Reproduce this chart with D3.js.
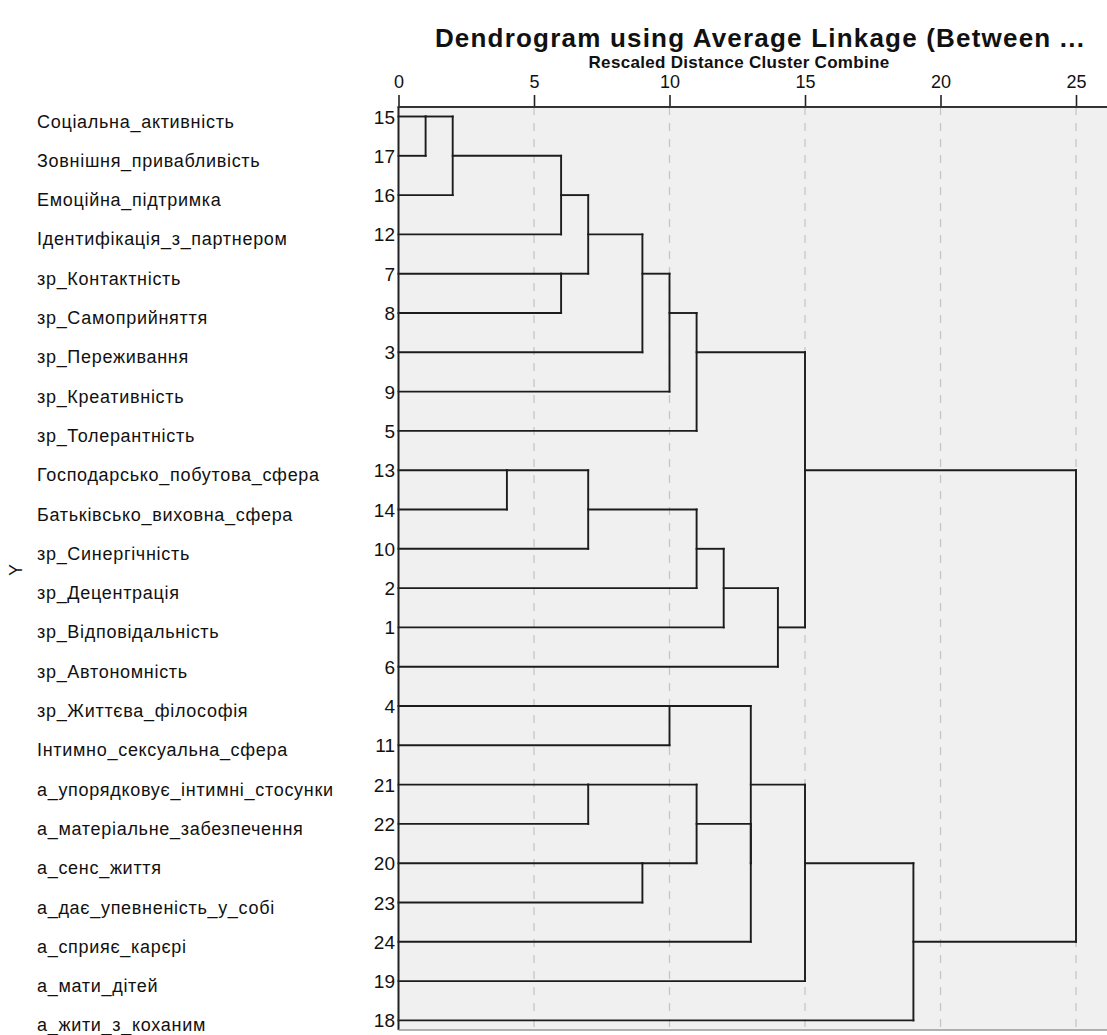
<!DOCTYPE html>
<html><head><meta charset="utf-8">
<script src="https://cdn.jsdelivr.net/npm/d3@7"></script>
<style>
html,body{margin:0;padding:0;background:#fff;}
svg text{font-family:"Liberation Sans",Arial,sans-serif;fill:#111;}
</style></head>
<body>
<svg id="chart" width="1107" height="1035"></svg>
<script>
// ---- data ----
const chartTitle = "Dendrogram using Average Linkage (Between ...";
const axisTitle = "Rescaled Distance Cluster Combine";
const yTitle = "Y";
const caseIds = ["15","17","16","12","7","8","3","9","5","13","14","10","2","1","6","4","11","21","22","20","23","24","19","18"];
const caseLabels = ["Соціальна_активність","Зовнішня_привабливість","Емоційна_підтримка","Ідентифікація_з_партнером","зр_Контактність","зр_Самоприйняття","зр_Переживання","зр_Креативність","зр_Толерантність","Господарсько_побутова_сфера","Батьківсько_виховна_сфера","зр_Синергічність","зр_Децентрація","зр_Відповідальність","зр_Автономність","зр_Життєва_філософія","Інтимно_сексуальна_сфера","а_упорядковує_інтимні_стосунки","а_матеріальне_забезпечення","а_сенс_життя","а_дає_упевненість_у_собі","а_сприяє_карєрі","а_мати_дітей","а_жити_з_коханим"];
// merges in agglomeration order: M1..M23
const mergeLeft  = ["15","M1","13","M2","7","M4","M3","21","M6","20","M9","4","M11","M7","M8","M14","M15","M12","M16","M13","M18","M21","M20"];
const mergeRight = ["17","16","14","12","8","M5","10","22","3","23","9","11","5","2","M10","1","24","M17","6","M19","19","18","M22"];
const mergeDist  = [1,2,4,6,6,7,7,7,9,9,10,10,11,11,11,12,13,13,14,15,15,19,25];
const xTicks = [0,5,10,15,20,25];

// ---- layout ----
const svg = d3.select("#chart");
const plot = {left:398.5, top:107, bottom:1030, right:1107};
const x = d3.scaleLinear().domain([0,25]).range([plot.left, 1076]);
const y = d3.scaleLinear().domain([0, caseIds.length-1]).range([116.5, 1020.4]);

// background
svg.append("rect").attr("x",plot.left).attr("y",plot.top)
  .attr("width",plot.right-plot.left).attr("height",plot.bottom-plot.top)
  .attr("fill","#f0f0f0");

// grid
svg.append("g").selectAll("line").data(xTicks.filter(d=>d>0)).join("line")
  .attr("x1",d=>x(d)).attr("x2",d=>x(d)).attr("y1",plot.top).attr("y2",plot.bottom)
  .attr("stroke","#c4c4c4").attr("stroke-width",1.2).attr("stroke-dasharray","8,8");

// node positions
const node = {};
caseIds.forEach((c,i)=>{ node[c] = {row:i, dist:0}; });
const links = [];
mergeLeft.forEach((a,i)=>{
  const b = mergeRight[i], d = mergeDist[i];
  const na = node[a], nb = node[b];
  links.push({x1:x(na.dist),x2:x(d),y1:y(na.row),y2:y(na.row)});
  links.push({x1:x(nb.dist),x2:x(d),y1:y(nb.row),y2:y(nb.row)});
  links.push({x1:x(d),x2:x(d),y1:y(na.row),y2:y(nb.row)});
  node["M"+(i+1)] = {row:Math.floor((na.row+nb.row)/2), dist:d};
});
svg.append("g").selectAll("line").data(links).join("line")
  .attr("x1",d=>d.x1).attr("x2",d=>d.x2).attr("y1",d=>d.y1).attr("y2",d=>d.y2)
  .attr("stroke","#1c1c1c").attr("stroke-width",1.9).attr("stroke-linecap","square");

// axes
const xAxis = d3.axisTop(x).tickValues(xTicks).tickSize(12).tickPadding(7).tickFormat(d3.format("d"));
const gx = svg.append("g").attr("transform",`translate(0,${plot.top})`).call(xAxis);
gx.select(".domain").remove();
gx.selectAll(".tick line").attr("stroke","#222").attr("stroke-width",1.6);
gx.selectAll(".tick text").attr("font-size",18).attr("font-family","Liberation Sans, Arial, sans-serif").attr("fill","#222");
svg.append("line").attr("x1",plot.left-1).attr("x2",plot.right).attr("y1",plot.top).attr("y2",plot.top)
  .attr("stroke","#333").attr("stroke-width",2);
svg.append("line").attr("x1",plot.left).attr("x2",plot.left).attr("y1",plot.top).attr("y2",plot.bottom)
  .attr("stroke","#222").attr("stroke-width",2);
svg.append("line").attr("x1",plot.left).attr("x2",plot.right).attr("y1",plot.bottom).attr("y2",plot.bottom)
  .attr("stroke","#999").attr("stroke-width",1.5);

// row numbers and labels
svg.append("g").selectAll("text").data(caseIds).join("text")
  .attr("x",395).attr("y",(d,i)=>y(i)+7)
  .attr("text-anchor","end").attr("font-size",19).attr("fill","#222").text(d=>d);
svg.append("g").selectAll("text").data(caseLabels).join("text")
  .attr("x",37).attr("y",(d,i)=>y(i)+11)
  .attr("font-size",18).attr("letter-spacing","0.7px").attr("fill","#111").text(d=>d);

// titles
svg.append("text").attr("x",760).attr("y",47).attr("text-anchor","middle")
  .attr("font-size",26).attr("font-weight","bold").attr("letter-spacing","1.2px").text(chartTitle);
svg.append("text").attr("x",739).attr("y",68).attr("text-anchor","middle")
  .attr("font-size",17).attr("font-weight","bold").attr("letter-spacing","0.3px").text(axisTitle);
svg.append("text").attr("transform","translate(22,570) rotate(-90)").attr("text-anchor","middle")
  .attr("font-size",18).text(yTitle);
</script>
</body></html>
